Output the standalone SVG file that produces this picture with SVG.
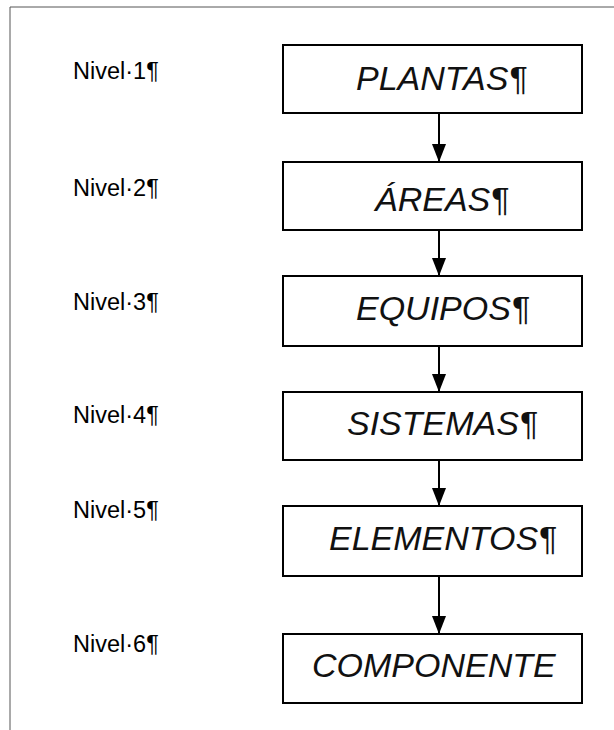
<svg xmlns="http://www.w3.org/2000/svg" width="614" height="730" viewBox="0 0 614 730">
  <style>
    .frame { fill: none; stroke: #555; stroke-width: 1; }
    .box rect { fill: #fff; stroke: #000; stroke-width: 2; }
    .box text { font-family: "Liberation Sans", Arial, sans-serif; font-style: italic; font-size: 34px; fill: #111; }
    .level { font-family: "Liberation Sans", Arial, sans-serif; font-size: 23.5px; fill: #000; }
    .link { stroke: #000; stroke-width: 2; fill: none; marker-end: url(#head); }
  </style>
  <defs>
    <!-- filled triangular arrowhead, tip at the end of the line -->
    <marker id="head" viewBox="0 0 18 14" refX="18" refY="7" markerWidth="18" markerHeight="14" markerUnits="userSpaceOnUse" orient="auto">
      <path d="M0,0 L18,7 L0,14 Z" fill="#000"/>
    </marker>
  </defs>

  <rect width="614" height="730" fill="#fff"/>
  <!-- page frame -->
  <path class="frame" d="M10,730 V7 H614"/>

  <!-- level labels -->
  <g id="labels">
    <text class="level" x="73" y="79">Nivel·1¶</text>
    <text class="level" x="73" y="196">Nivel·2¶</text>
    <text class="level" x="73" y="310">Nivel·3¶</text>
    <text class="level" x="73" y="423">Nivel·4¶</text>
    <text class="level" x="73" y="518">Nivel·5¶</text>
    <text class="level" x="73" y="652">Nivel·6¶</text>
  </g>

  <!-- connectors -->
  <g id="connectors">
    <line class="link" x1="439" y1="113" x2="439" y2="162"/>
    <line class="link" x1="439" y1="230" x2="439" y2="276"/>
    <line class="link" x1="439" y1="346" x2="439" y2="392"/>
    <line class="link" x1="439" y1="460" x2="439" y2="506"/>
    <line class="link" x1="439" y1="576" x2="439" y2="634"/>
  </g>

  <g id="plantas" class="box">
    <rect x="283" y="45" width="299" height="68"/>
    <text x="356" y="90">PLANTAS¶</text>
  </g>
  <g id="areas" class="box">
    <rect x="283" y="162" width="299" height="68"/>
    <text x="375" y="211">ÁREAS¶</text>
  </g>
  <g id="equipos" class="box">
    <rect x="283" y="276" width="299" height="70"/>
    <text x="356" y="320">EQUIPOS¶</text>
  </g>
  <g id="sistemas" class="box">
    <rect x="283" y="392" width="299" height="68"/>
    <text x="347" y="435">SISTEMAS¶</text>
  </g>
  <g id="elementos" class="box">
    <rect x="283" y="506" width="299" height="70"/>
    <text x="329" y="550">ELEMENTOS¶</text>
  </g>
  <g id="componente" class="box">
    <rect x="283" y="634" width="299" height="69"/>
    <text x="312" y="677">COMPONENTE</text>
  </g>
</svg>
